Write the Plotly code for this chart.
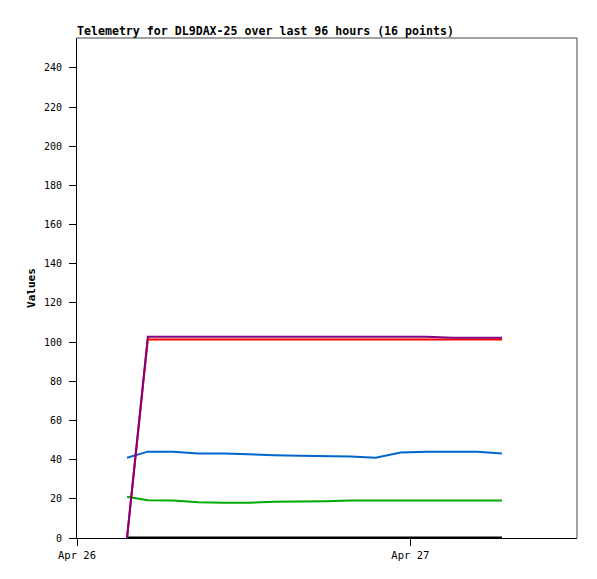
import plotly.graph_objects as go

times = ["2024-04-26 03:36", "2024-04-26 05:06", "2024-04-26 06:54", "2024-04-26 08:45",
         "2024-04-26 10:36", "2024-04-26 12:24", "2024-04-26 14:12", "2024-04-26 16:00",
         "2024-04-26 17:54", "2024-04-26 19:42", "2024-04-26 21:30", "2024-04-26 23:18",
         "2024-04-27 01:12", "2024-04-27 03:00", "2024-04-27 04:48", "2024-04-27 06:36"]

ch_black = [0] * 16
ch_green = [21.1, 19.3, 19.1, 18.3, 18.0, 18.0, 18.5, 18.5, 18.8, 19.1, 19.1, 19.1, 19.1, 19.1, 19.1, 19.1]
ch_blue = [41.0, 44.1, 44.1, 43.2, 43.2, 42.6, 42.3, 42.0, 41.9, 41.6, 41.0, 43.6, 44.1, 44.1, 44.1, 43.1]
ch_red = [0, 101.3, 101.3, 101.3, 101.3, 101.3, 101.3, 101.3, 101.3, 101.3, 101.3, 101.3, 101.3, 101.3, 101.3, 101.3]
ch_purple = [0, 102.8, 102.8, 102.8, 102.8, 102.8, 102.8, 102.8, 102.8, 102.8, 102.8, 102.8, 102.8, 102.3, 102.3, 102.3]

x_tickvals = ["2024-04-26 00:00", "2024-04-27 00:00"]
x_ticktext = ["Apr 26", "Apr 27"]
y_tickvals = list(range(0, 241, 20))

series = [
    (ch_black, "#000000", 3),
    (ch_green, "#00aa00", 2),
    (ch_blue, "#0066cc", 2),
    (ch_red, "#ff0000", 2),
    (ch_purple, "#800080", 2),
]

fig = go.Figure()
for vals, color, w in series:
    fig.add_trace(go.Scatter(x=times, y=vals, mode="lines",
                             line=dict(color=color, width=w),
                             cliponaxis=False, showlegend=False, hoverinfo="skip"))

mono = "DejaVu Sans Mono"
W, H = 589, 571
fig.update_layout(
    width=W, height=H,
    margin=dict(l=69, r=20, t=30, b=41),
    paper_bgcolor="white", plot_bgcolor="white",
    title=dict(text="<b>Telemetry for DL9DAX-25 over last 96 hours (16 points)</b>",
               x=69 / W, xanchor="left", y=1 - 23 / H, yanchor="middle",
               font=dict(family=mono, size=11.6, color="black")),
    xaxis=dict(range=["2024-04-26 00:00", "2024-04-27 12:00"],
               tickvals=x_tickvals, ticktext=x_ticktext,
               showgrid=False, zeroline=False, showline=True, linecolor="black", linewidth=1,
               ticks="outside", ticklen=7, tickcolor="black",
               tickfont=dict(family=mono, size=10.5, color="black")),
    yaxis=dict(range=[0, 255.3], tickvals=y_tickvals,
               showgrid=False, zeroline=False, showline=True, linecolor="black", linewidth=1,
               ticks="outside", ticklen=7, tickcolor="black", ticklabelstandoff=5,
               tickfont=dict(family=mono, size=10, color="black"),
               title=dict(text="<b>Values</b>", standoff=6,
                          font=dict(family=mono, size=11, color="black"))),
    shapes=[
        dict(type="line", xref="paper", yref="paper", x0=0, x1=1, y0=1, y1=1,
             line=dict(color="#444444", width=1)),
        dict(type="line", xref="paper", yref="paper", x0=1, x1=1, y0=0, y1=1,
             line=dict(color="#444444", width=1)),
    ],
)

fig.write_html("out.html")
